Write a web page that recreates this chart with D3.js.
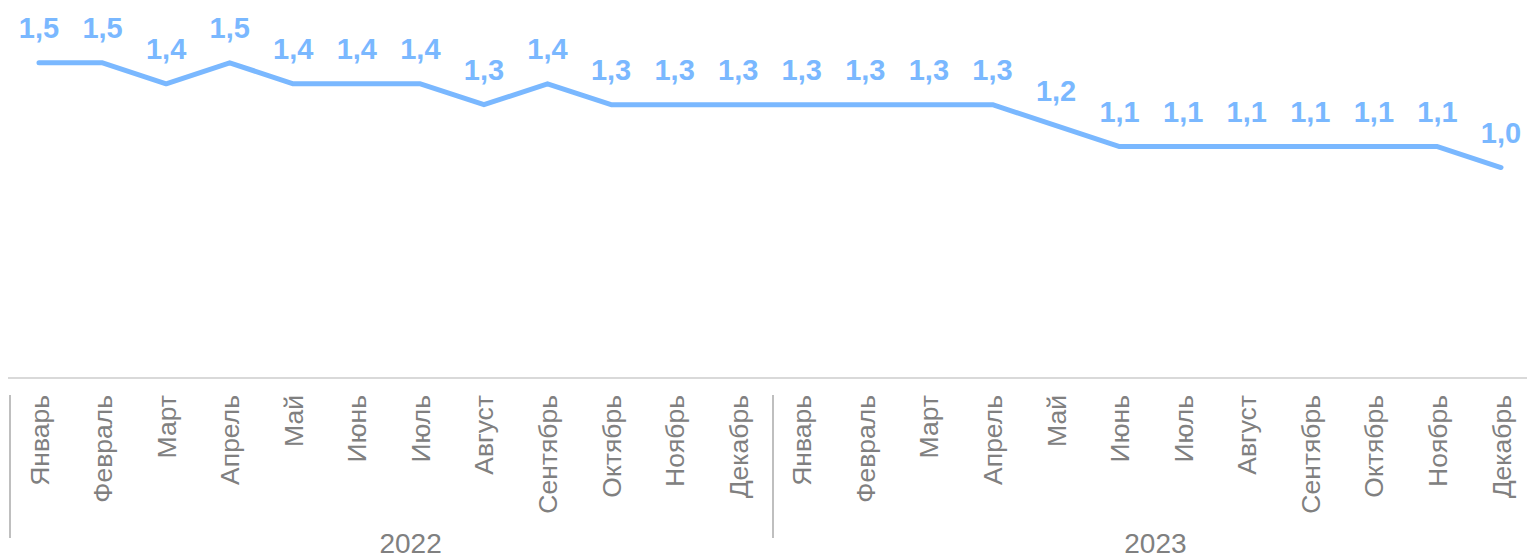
<!DOCTYPE html>
<html><head><meta charset="utf-8">
<script src="https://cdn.jsdelivr.net/npm/d3@7"></script>
<style>body{margin:0;background:#fff}svg{display:block}text{font-family:"Liberation Sans",Arial,sans-serif}</style>
</head><body><svg id="c" width="1527" height="559"></svg>
<script>
const months = ["Январь","Февраль","Март","Апрель","Май","Июнь","Июль","Август","Сентябрь","Октябрь","Ноябрь","Декабрь"];
const years = ["2022","2023"];
const values2022 = [1.5,1.5,1.4,1.5,1.4,1.4,1.4,1.3,1.4,1.3,1.3,1.3];
const values2023 = [1.3,1.3,1.3,1.3,1.2,1.1,1.1,1.1,1.1,1.1,1.1,1.0];

const data = [];
years.forEach((yr, yi) => {
  const vals = yi === 0 ? values2022 : values2023;
  months.forEach((m, mi) => data.push({key: yr + "-" + mi, month: m, year: yr, value: vals[mi]}));
});

const svg = d3.select("#c");
const x = d3.scalePoint().domain(data.map(d => d.key)).range([39, 1501]);
const y = d3.scaleLinear().domain([0, 1.8]).range([377, 0]);
const color = "#7ab8ff";

// axis line
svg.append("line").attr("x1", 8).attr("x2", 1527).attr("y1", 378).attr("y2", 378)
  .attr("stroke", "#d9d9d9").attr("stroke-width", 2);

// line
svg.append("path").datum(data)
  .attr("d", d3.line().x(d => x(d.key)).y(d => y(d.value)))
  .attr("fill", "none").attr("stroke", color).attr("stroke-width", 5)
  .attr("stroke-linejoin", "round").attr("stroke-linecap", "round");

// data labels
svg.selectAll("text.v").data(data).enter().append("text")
  .attr("x", d => x(d.key)).attr("y", d => y(d.value) - 25)
  .attr("text-anchor", "middle").attr("font-weight", "bold").attr("font-size", 29)
  .attr("fill", color).text(d => d3.format(".1f")(d.value).replace(".", ","));

// month labels
svg.selectAll("text.m").data(data).enter().append("text")
  .attr("transform", d => `translate(${x(d.key) + 9.5},395) rotate(-90)`)
  .attr("text-anchor", "end").attr("font-size", 26.5).attr("fill", "#808080")
  .text(d => d.month);

// separators
const sepX = [x(data[0].key) - 29, (x(data[11].key) + x(data[12].key)) / 2 + 3];
sepX.forEach(sx => svg.append("line").attr("x1", sx).attr("x2", sx).attr("y1", 395).attr("y2", 538)
  .attr("stroke", "#bfbfbf").attr("stroke-width", 2));

// year labels
const yearX = [(x(data[0].key) + x(data[11].key)) / 2 + 22, (x(data[12].key) + x(data[23].key)) / 2 + 4];
years.forEach((yr, i) => svg.append("text").attr("x", yearX[i]).attr("y", 553)
  .attr("text-anchor", "middle").attr("font-size", 28).attr("fill", "#808080").text(yr));
</script></body></html>
